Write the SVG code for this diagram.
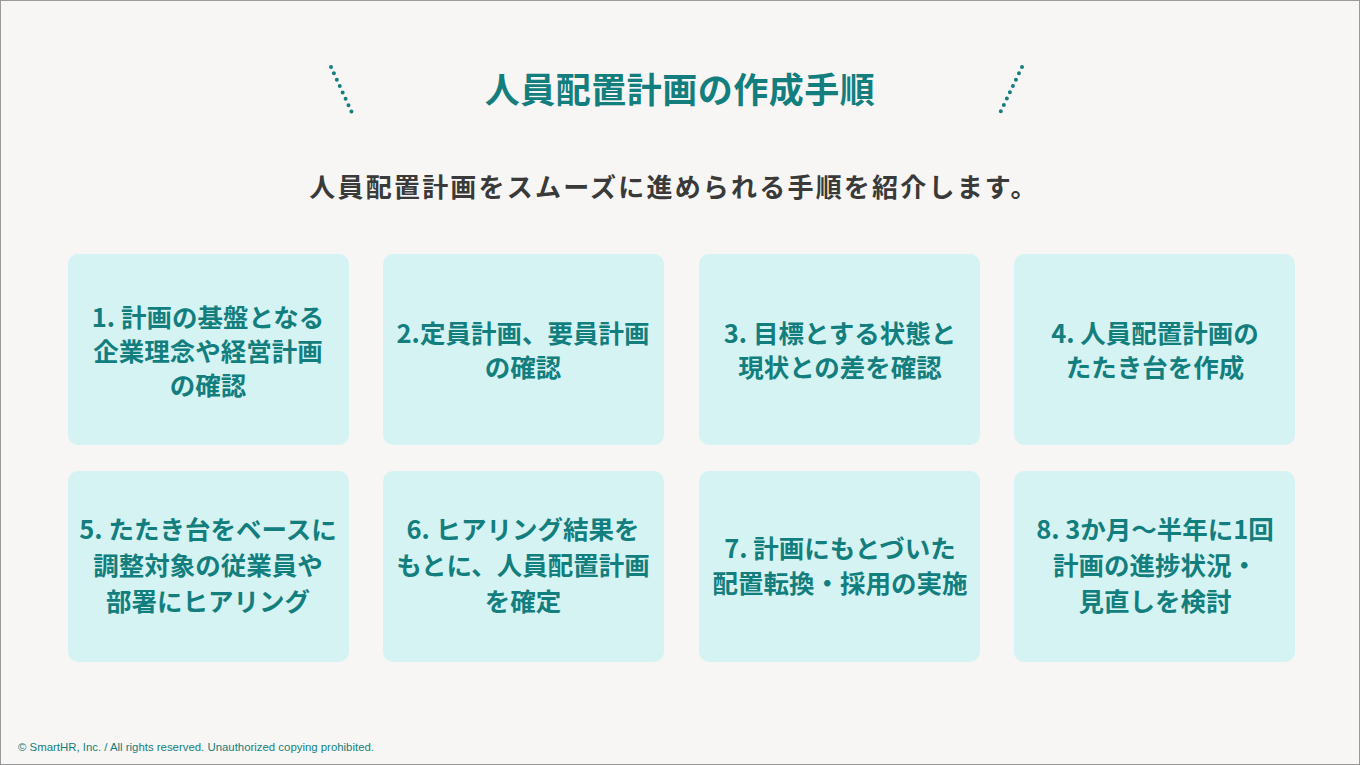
<svg xmlns="http://www.w3.org/2000/svg" width="1360" height="765" viewBox="0 0 1360 765">
<style>
.bg{fill:#f7f6f4;stroke:#9a9a9a;stroke-width:1}
.box{fill:#d5f3f3}
.t{font-family:"Noto Sans CJK JP","Noto Sans",sans-serif;font-weight:bold;font-size:25.5px;fill:#137e7e;text-anchor:middle}
.title{font-family:"Noto Sans CJK JP","Noto Sans",sans-serif;font-weight:bold;font-size:35px;letter-spacing:0.5px;fill:#137e7e;text-anchor:middle}
.sub{font-family:"Noto Sans CJK JP","Noto Sans",sans-serif;font-weight:bold;font-size:26px;letter-spacing:2.2px;fill:#3a3a3a;text-anchor:middle}
.dots{stroke:#137e7e;stroke-width:4;stroke-linecap:round;stroke-dasharray:0 7;fill:none}
.copy{font-family:"Liberation Sans",Arial,sans-serif;font-size:11.4px;fill:#137e7e}
</style>
<rect class="bg" x="0.5" y="0.5" width="1359" height="764"/>
<g id="header">
<line class="dots" x1="331" y1="67" x2="353" y2="115"/>
<line class="dots" x1="1022" y1="67" x2="999" y2="115"/>
<text class="title" x="680" y="103">人員配置計画の作成手順</text>
<text class="sub" x="674" y="197">人員配置計画をスムーズに進められる手順を紹介します。</text>
</g>
<g id="step1"><rect class="box" x="68" y="254" width="281" height="191" rx="10"/>
<text class="t" x="208" y="327">1. 計画の基盤となる</text><text class="t" x="208" y="361">企業理念や経営計画</text><text class="t" x="208" y="395">の確認</text></g>
<g id="step2"><rect class="box" x="383" y="254" width="281" height="191" rx="10"/>
<text class="t" x="523" y="343">2.定員計画、要員計画</text><text class="t" x="523" y="377">の確認</text></g>
<g id="step3"><rect class="box" x="699" y="254" width="281" height="191" rx="10"/>
<text class="t" x="840" y="343">3. 目標とする状態と</text><text class="t" x="840" y="377">現状との差を確認</text></g>
<g id="step4"><rect class="box" x="1014" y="254" width="281" height="191" rx="10"/>
<text class="t" x="1155" y="343">4. 人員配置計画の</text><text class="t" x="1155" y="377">たたき台を作成</text></g>
<g id="step5"><rect class="box" x="68" y="471" width="281" height="191" rx="10"/>
<text class="t" x="208" y="539">5. たたき台をベースに</text><text class="t" x="208" y="575">調整対象の従業員や</text><text class="t" x="208" y="611">部署にヒアリング</text></g>
<g id="step6"><rect class="box" x="383" y="471" width="281" height="191" rx="10"/>
<text class="t" x="523" y="539">6. ヒアリング結果を</text><text class="t" x="523" y="575">もとに、人員配置計画</text><text class="t" x="523" y="611">を確定</text></g>
<g id="step7"><rect class="box" x="699" y="471" width="281" height="191" rx="10"/>
<text class="t" x="840" y="558">7. 計画にもとづいた</text><text class="t" x="840" y="593">配置転換・採用の実施</text></g>
<g id="step8"><rect class="box" x="1014" y="471" width="281" height="191" rx="10"/>
<text class="t" x="1155" y="539">8. 3か月～半年に1回</text><text class="t" x="1155" y="575">計画の進捗状況・</text><text class="t" x="1155" y="611">見直しを検討</text></g>
<g id="connectors"></g>
<text class="copy" x="18" y="751">© SmartHR, Inc. / All rights reserved. Unauthorized copying prohibited.</text>
</svg>
